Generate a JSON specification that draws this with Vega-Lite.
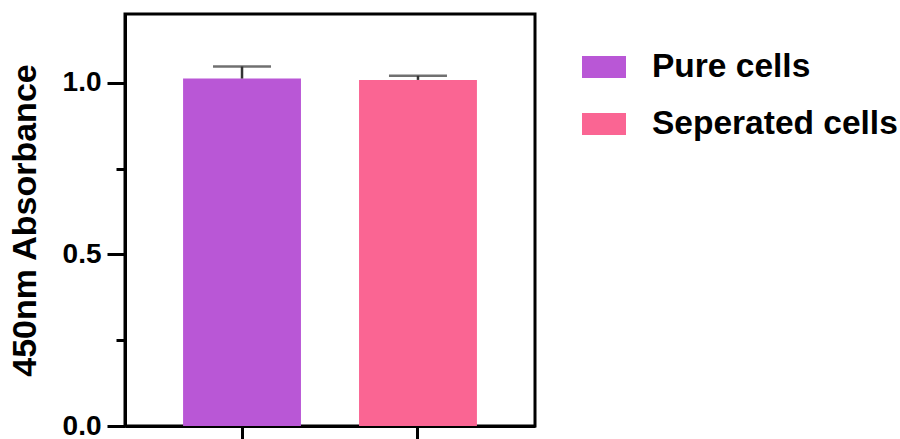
{
  "$schema": "https://vega.github.io/schema/vega-lite/v6.json",
  "autosize": {"type": "none"},
  "padding": {"left": 125, "top": 14, "right": 365, "bottom": 13},
  "width": 410,
  "height": 412,
  "background": "white",
  "config": {
    "view": {"stroke": "black", "strokeWidth": 3},
    "font": "Liberation Sans"
  },
  "data": {
    "values": [
      {"group": "Pure cells", "mean": 1.012, "upper": 1.047},
      {"group": "Seperated cells", "mean": 1.008, "upper": 1.020}
    ]
  },
  "encoding": {
    "x": {
      "field": "group",
      "type": "nominal",
      "sort": null,
      "scale": {"paddingInner": 0.33, "paddingOuter": 0.33},
      "axis": {
        "orient": "bottom",
        "title": null,
        "labels": false,
        "tickSize": 18,
        "tickWidth": 3,
        "tickColor": "black",
        "domainColor": "black",
        "domainWidth": 3
      }
    }
  },
  "layer": [
    {
      "mark": {"type": "bar"},
      "encoding": {
        "y": {
          "field": "mean",
          "type": "quantitative",
          "scale": {"domain": [0, 1.2], "nice": false, "zero": true},
          "axis": {
            "orient": "left",
            "values": [0, 0.5, 1.0],
            "format": ".1f",
            "grid": false,
            "tickSize": 18,
            "tickWidth": 3,
            "tickColor": "black",
            "domainColor": "black",
            "domainWidth": 3,
            "labelFontSize": 28,
            "labelFontWeight": "bold",
            "labelColor": "black",
            "labelPadding": 6,
            "title": "450nm Absorbance",
            "titleFontSize": 34,
            "titleFontWeight": "bold",
            "titleColor": "black",
            "titlePadding": 20
          }
        },
        "color": {
          "field": "group",
          "type": "nominal",
          "sort": null,
          "scale": {"domain": ["Pure cells", "Seperated cells"], "range": ["#B957D6", "#FA6593"]},
          "legend": {
            "orient": "none",
            "legendX": 457,
            "legendY": 31,
            "title": null,
            "padding": 0,
            "symbolType": "M-1,-0.5H1V0.5H-1Z",
            "symbolSize": 1936,
            "symbolStrokeWidth": 0,
            "symbolOpacity": 1,
            "labelFontSize": 33.5,
            "labelFontWeight": "bold",
            "labelColor": "black",
            "labelOffset": 26,
            "rowPadding": 18,
            "labelLimit": 400
          }
        }
      }
    },
    {
      "mark": {"type": "rule", "color": "#333333", "strokeWidth": 2.5},
      "encoding": {
        "y": {
          "field": "mean",
          "type": "quantitative",
          "axis": {
            "orient": "left",
            "values": [0.25, 0.75],
            "labels": false,
            "domain": false,
            "grid": false,
            "tickSize": 9,
            "tickWidth": 3,
            "tickColor": "black",
            "title": null
          }
        },
        "y2": {"field": "upper"}
      }
    },
    {
      "mark": {"type": "tick", "color": "#333333", "thickness": 2.5, "size": 58, "orient": "horizontal"},
      "encoding": {
        "y": {"field": "upper", "type": "quantitative", "axis": null}
      }
    }
  ],
  "resolve": {"axis": {"y": "independent"}}
}
